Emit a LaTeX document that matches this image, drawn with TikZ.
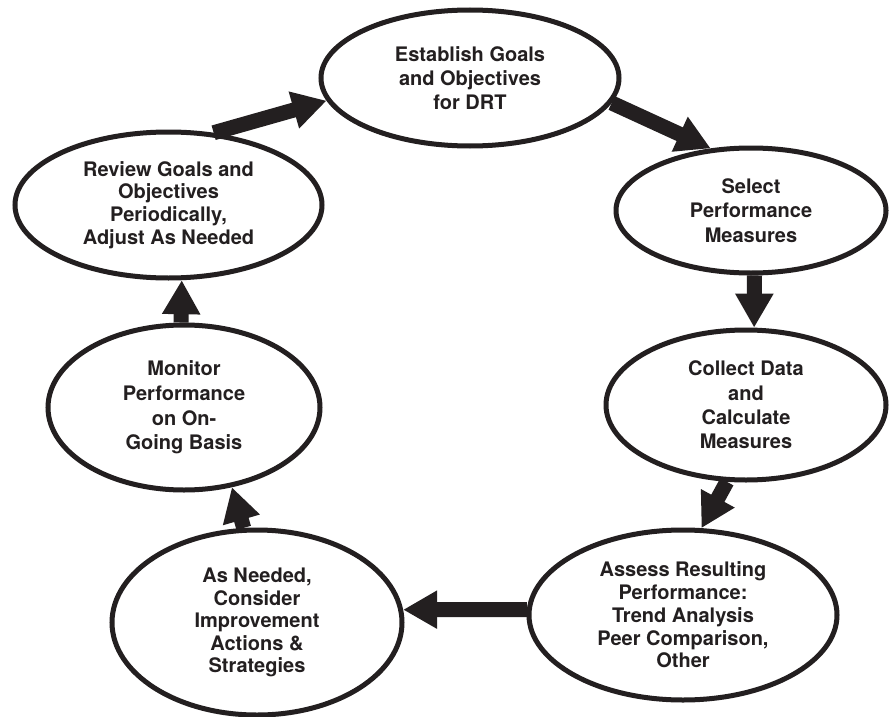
\documentclass[tikz,border=0pt]{standalone}
\usepackage{fontspec}
\setmainfont{TeX Gyre Heros}
\usetikzlibrary{shapes.geometric,arrows.meta}
\definecolor{ink}{RGB}{35,31,32}
\begin{document}
\begin{tikzpicture}[x=1pt,y=-1pt,
  ell/.style={ellipse,draw=ink,line width=5pt,inner sep=0pt,fill=white,
    text=ink,align=center,font=\fontsize{20}{23.5}\selectfont\bfseries},
  flow/.style={draw=ink,line width=15pt,-{Triangle[width=36pt,length=34pt]}}]
\path[use as bounding box,fill=white] (0,0) rectangle (889,717);

\node[ell,minimum width=298pt,minimum height=136pt,font=\fontsize{20}{24.2}\selectfont\bfseries] (top) at (470,78)
  {Establish Goals\\and Objectives\\for DRT};
\node[ell,minimum width=270pt,minimum height=125pt,font=\fontsize{20}{24.2}\selectfont\bfseries] (select) at (751,210.5)
  {Select\\Performance\\Measures};
\node[ell,minimum width=280pt,minimum height=150pt,font=\fontsize{20}{24.4}\selectfont\bfseries] (collect) at (746,405)
  {Collect Data\\and\\Calculate\\Measures};
\node[ell,minimum width=308pt,minimum height=170pt,font=\fontsize{20}{22.7}\selectfont\bfseries] (assess) at (683,615)
  {Assess Resulting\\Performance:\\Trend Analysis\\Peer Comparison,\\Other};
\node[ell,minimum width=290pt,minimum height=185pt,font=\fontsize{20}{22.5}\selectfont\bfseries] (improve) at (257,622.5)
  {As Needed,\\Consider\\Improvement\\Actions \&\\Strategies};
\node[ell,minimum width=272pt,minimum height=165pt,font=\fontsize{20}{24.7}\selectfont\bfseries] (monitor) at (184,407.5)
  {Monitor\\Performance\\on On-\\Going Basis};
\node[ell,minimum width=307pt,minimum height=146pt,font=\fontsize{20}{22.6}\selectfont\bfseries] (review) at (168.5,205)
  {Review Goals and\\Objectives\\Periodically,\\Adjust As Needed};

\draw[flow] (review.58) -- (top.189);
\draw[flow] (top.350) -- (select.123);
\draw[flow] (select.-87) -- (collect.84);
\draw[flow] (collect.-104) -- (assess.78);
\draw[flow] (assess.178) -- (improve.5);
\draw[flow] (improve.98.6) -- (monitor.-59);
\draw[flow] (monitor.92) -- (review.-80);
\end{tikzpicture}
\end{document}
